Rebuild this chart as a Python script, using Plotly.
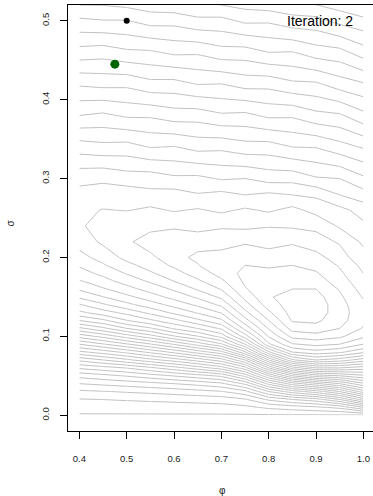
import numpy as np
import plotly.graph_objects as go

# --- data -----------------------------------------------------------------
phi = [0.40, 0.45, 0.50, 0.55, 0.60, 0.65, 0.70, 0.75, 0.80, 0.85, 0.90, 0.95, 1.00]
sigma = [0.00, 0.01, 0.02, 0.03, 0.04, 0.05, 0.06, 0.07, 0.08, 0.09, 0.10,
         0.11, 0.12, 0.13, 0.14, 0.15, 0.16, 0.17, 0.18, 0.19, 0.20,
         0.22, 0.24, 0.26, 0.28, 0.30, 0.34, 0.38, 0.42, 0.46, 0.50, 0.54]

# surface height (contour-level index) along sigma, one list per phi column
z_phi_040 = [0.9, 1.44, 1.95, 2.82, 4.0, 5.33, 7.17, 9.25, 11.75, 14.0, 16.4, 18.75, 21.0, 22.75, 23.9, 25.2, 26.15,
             26.9, 27.6, 28.1, 28.67, 29.4, 29.85, 29.74, 29.32, 28.71, 26.5, 24.0, 21.85, 19.4, 17.2, 14.8]
z_phi_045 = [0.9, 1.46, 2.01, 2.95, 4.22, 5.69, 7.59, 9.98, 12.44, 14.9, 17.33, 19.75, 21.76, 23.53, 24.84, 25.98, 26.88,
             27.64, 28.26, 28.88, 29.37, 30.2, 30.45, 30.05, 29.35, 28.85, 26.3, 24.2, 21.7, 19.55, 17.05, 14.9]
z_phi_050 = [0.9, 1.49, 2.09, 3.10, 4.45, 6.09, 8.05, 10.77, 13.27, 15.88, 18.47, 20.99, 22.95, 24.30, 25.71, 26.75, 27.63,
             28.4, 29.09, 29.69, 30.3, 30.8, 30.9, 29.95, 29.55, 28.5, 26.4, 23.85, 21.75, 19.2, 17.05, 14.55]
z_phi_055 = [0.9, 1.51, 2.17, 3.25, 4.71, 6.55, 8.80, 11.64, 14.22, 16.92, 19.59, 21.86, 23.8, 25.26, 26.52, 27.51, 28.4,
             29.15, 29.86, 30.42, 30.75, 31.55, 30.65, 30.2, 29.25, 28.55, 25.95, 23.85, 21.3, 19.15, 16.6, 14.45]
z_phi_060 = [0.9, 1.54, 2.25, 3.44, 5.0, 7.07, 9.6, 12.44, 15.25, 18.08, 20.91, 23.14, 24.69, 26.21, 27.33, 28.36, 29.16,
             30.01, 30.62, 31.18, 31.7, 31.4, 30.9, 29.9, 29.4, 28.2, 26.05, 23.5, 21.35, 18.8, 16.65, 14.1]
z_phi_065 = [0.9, 1.57, 2.35, 3.68, 5.33, 7.59, 10.5, 13.4, 16.4, 19.42, 21.95, 24.01, 25.76, 27.09, 28.21, 29.18, 30.13,
             30.83, 31.46, 31.94, 32.2, 31.65, 30.6, 30.1, 29.05, 28.25, 25.65, 23.55, 20.95, 18.85, 16.25, 14.1]
z_phi_070 = [0.9, 1.60, 2.47, 3.93, 5.79, 8.2, 11.49, 14.5, 17.64, 20.83, 23.36, 25.16, 26.79, 28.06, 29.21, 30.23, 31.07,
             31.8, 32.38, 32.8, 32.5, 31.45, 30.9, 29.8, 29.25, 27.9, 25.75, 23.15, 21.0, 18.4, 16.3, 13.7]
z_phi_075 = [0.9, 1.75, 2.9, 4.7, 7.2, 10.3, 13.6, 17.0, 20.8, 24.0, 26.5, 28.3, 29.6, 30.7, 31.6, 32.3, 32.9,
             33.2, 33.3, 33.0, 32.5, 31.9, 30.75, 30.15, 28.95, 28.0, 25.4, 23.25, 20.6, 18.45, 15.8, 13.6]
z_phi_080 = [0.9, 2.2, 4.2, 7.0, 10.3, 14.0, 18.0, 22.0, 25.8, 28.8, 30.1, 31.1, 32.0, 32.8, 33.5, 33.9, 33.9,
             33.6, 33.2, 32.9, 32.6, 31.5, 30.95, 29.85, 29.15, 27.6, 25.45, 22.8, 20.65, 18.0, 15.85, 13.2]
z_phi_085 = [0.9, 2.5, 5.0, 8.5, 12.5, 17.0, 21.5, 25.8, 29.0, 30.9, 32.3, 33.4, 34.1, 34.4, 34.5, 34.4, 34.0,
             33.6, 33.3, 33.0, 32.45, 31.9, 30.85, 30.3, 28.95, 27.65, 25.0, 22.85, 20.2, 18.05, 15.4, 13.25]
z_phi_090 = [0.9, 2.8, 5.6, 9.5, 13.8, 18.5, 23.0, 27.0, 29.6, 31.3, 32.6, 33.6, 34.2, 34.5, 34.6, 34.4, 34.0,
             33.5, 33.1, 32.7, 32.4, 31.35, 30.8, 29.65, 28.8, 27.1, 24.95, 22.3, 20.15, 17.5, 15.35, 12.7]
z_phi_095 = [0.9, 3.3, 7.0, 11.0, 15.0, 19.0, 23.0, 26.5, 29.2, 31.0, 32.2, 33.0, 33.4, 33.5, 33.4, 33.2, 32.9,
             32.5, 32.2, 31.9, 31.4, 30.9, 29.85, 29.3, 27.95, 27.0, 24.4, 22.15, 19.5, 17.35, 14.7, 12.5]
z_phi_100 = [0.9, 5.0, 9.5, 13.5, 16.8, 19.8, 22.5, 25.5, 28.2, 30.0, 31.2, 31.9, 32.2, 32.3, 32.2, 31.9, 31.6,
             31.3, 31.0, 30.7, 30.4, 29.8, 29.2, 28.6, 27.4, 26.2, 23.9, 21.3, 19.1, 16.5, 14.3, 11.7]

# iterates shown as points
iter_phi = [0.500, 0.475]
iter_sigma = [0.500, 0.445]
iter_colors = ["#000000", "#006400"]
iter_sizes = [6, 9]

x_ticks = [0.4, 0.5, 0.6, 0.7, 0.8, 0.9, 1.0]
x_tick_text = ["0.4", "0.5", "0.6", "0.7", "0.8", "0.9", "1.0"]
y_ticks = [0.0, 0.1, 0.2, 0.3, 0.4, 0.5]
y_tick_text = ["0.0", "0.1", "0.2", "0.3", "0.4", "0.5"]
label_text = "Iteration: 2"

# --- figure ----------------------------------------------------------------
Z = np.array([z_phi_040, z_phi_045, z_phi_050, z_phi_055, z_phi_060, z_phi_065,
              z_phi_070, z_phi_075, z_phi_080, z_phi_085, z_phi_090, z_phi_095,
              z_phi_100]).T

GREY = "#c0c0c0"
FONT = "Liberation Sans, Arial, Helvetica, sans-serif"
TXT = "#1a1a1a"

fig = go.Figure()
fig.add_trace(go.Contour(
    x=phi, y=sigma, z=Z,
    contours=dict(coloring="lines", start=1, end=34, size=1, showlabels=False),
    colorscale=[[0, GREY], [1, GREY]],
    line=dict(width=1, smoothing=0),
    showscale=False, hoverinfo="skip",
))
fig.add_trace(go.Scatter(
    x=iter_phi, y=iter_sigma, mode="markers",
    marker=dict(color=iter_colors, size=iter_sizes, opacity=1, line=dict(width=0)),
    hoverinfo="skip", showlegend=False,
))

axis_common = dict(
    showgrid=False, zeroline=False, showline=True, linecolor="#000000", linewidth=1,
    ticks="outside", ticklen=7, tickwidth=1, tickcolor="#000000", automargin=False,
    tickfont=dict(family=FONT, size=9.5, color=TXT),
)
fig.update_xaxes(range=[0.376, 1.0204], tickvals=x_ticks, ticktext=x_tick_text,
                 mirror=True, ticklabelstandoff=12, **axis_common)
fig.update_yaxes(range=[-0.02, 0.52], tickvals=y_ticks, ticktext=y_tick_text,
                 mirror=False, tickangle=-90, ticklabelstandoff=7, **axis_common)

fig.add_annotation(text=label_text, xref="paper", yref="paper", x=0.941, y=0.962,
                   xanchor="right", yanchor="middle", showarrow=False,
                   font=dict(family=FONT, size=14, color="#000000"))
fig.add_annotation(text="φ", xref="paper", yref="paper", x=0.505, y=-0.1385,
                   xanchor="center", yanchor="middle", showarrow=False,
                   font=dict(family=FONT, size=10, color=TXT))
fig.add_annotation(text="σ", xref="paper", yref="paper", x=-0.19, y=0.487,
                   xanchor="center", yanchor="middle", showarrow=False, textangle=-90,
                   font=dict(family=FONT, size=10, color=TXT))

fig.update_layout(
    width=373, height=496,
    margin=dict(l=68, r=0, t=5, b=65, autoexpand=False),
    paper_bgcolor="#ffffff", plot_bgcolor="#ffffff",
    showlegend=False,
)
fig.write_html(
    "out.html",
    config={"displayModeBar": False, "staticPlot": True},
    post_script="document.body.style.margin='0';document.body.style.overflow='hidden';",
)
